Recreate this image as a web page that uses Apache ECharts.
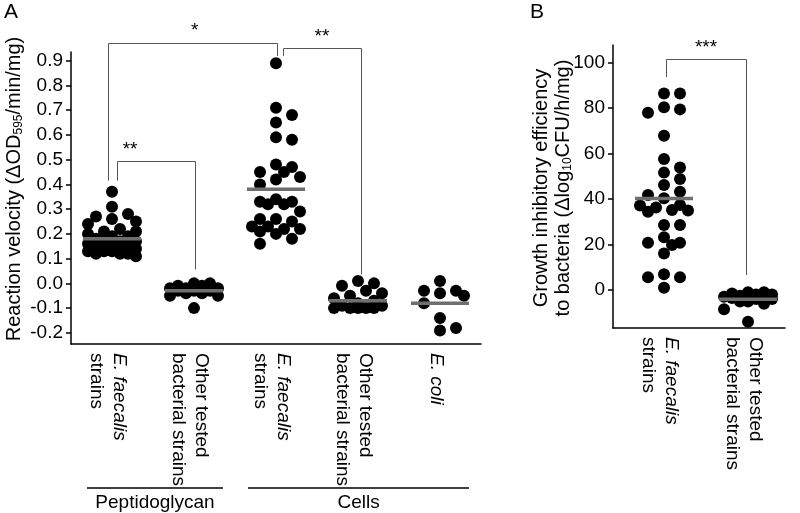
<!DOCTYPE html>
<html><head><meta charset="utf-8">
<script src="https://cdn.jsdelivr.net/npm/echarts@6/dist/echarts.min.js"></script>
<style>html,body{margin:0;padding:0;background:#fff}#c{width:800px;height:513px}</style>
</head><body><div id="c"></div>
<script>
// ---------------- data ----------------
const catsA = [['E. faecalis','strains'],['Other tested','bacterial strains'],['E. faecalis','strains'],['Other tested','bacterial strains'],['E. coli']];
const italicA = [true,false,true,false,true];
const catsB = [['E. faecalis','strains'],['Other tested','bacterial strains']];
const italicB = [true,false];

const pgEfaecalis = [0.37,0.31,0.28,0.27,0.26,0.25,0.24,0.22,0.21,0.21,0.20,0.19,0.19,0.18,0.17,0.17,0.16,0.16,0.15,0.15,0.14,0.14,0.14,0.13,0.13,0.13,0.12,0.12,0.12,0.11];
const pgOther = [0.00,0.00,-0.01,-0.01,-0.02,-0.02,-0.02,-0.03,-0.03,-0.03,-0.04,-0.04,-0.05,-0.05,-0.10];
const cellsEfaecalis = [0.89,0.71,0.68,0.65,0.59,0.58,0.48,0.47,0.45,0.45,0.43,0.42,0.40,0.34,0.33,0.33,0.32,0.32,0.29,0.26,0.26,0.25,0.23,0.23,0.22,0.22,0.21,0.20,0.18,0.16];
const cellsOther = [0.01,0.00,-0.01,-0.03,-0.04,-0.05,-0.06,-0.07,-0.08,-0.09,-0.09,-0.10,-0.10,-0.10,-0.10,-0.10];
const ecoli = [0.01,-0.03,-0.03,-0.04,-0.05,-0.08,-0.14,-0.18,-0.19];
const meansA = [0.18,-0.03,0.38,-0.07,-0.08];

const growthEfaecalis = [86.4,86.4,80.3,79.4,77.9,67.8,57.6,53.9,51.6,48.8,46.2,43.2,41.8,40.3,37.4,37.1,36.3,35.2,34.9,34.4,28.6,28.6,23.2,20.8,20.8,19.8,16.1,6.9,5.6,5.6,1.0];
const growthOther = [-1,-1,-1.5,-2,-2,-2.5,-3,-3,-3,-3.5,-4,-4,-5,-5,-6,-8.5,-14];
const meansB = [40.2,-4.1];

const yTicksA = [-0.2,-0.1,0.0,0.1,0.2,0.3,0.4,0.5,0.6,0.7,0.8,0.9];
const yTicksB = [0,20,40,60,80,100];

// significance brackets: [xLeft, xRight, yTop, yLeftEnd, yRightEnd, label, labelX, labelY]
const bracketsA = [
  [0.951, 3.012, 0.972, 0.415, 0.919, '*', 2.01, 1.02],
  [1.061, 2.012, 0.496, 0.415, 0.056, '**', 1.22, 0.54],
  [3.085, 4.037, 0.952, 0.919, 0.036, '**', 3.56, 0.995]
];
const bracketsB = [
  [1.024, 1.976, 101.5, 93.6, 6.6, '***', 1.5, 106.4]
];
const groupsA = [['Peptidoglycan', 0.695, 2.354], ['Cells', 2.659, 5.354]];

// ---------------- chart ----------------
const FONT = '"Liberation Sans", Arial, sans-serif';
const chart = echarts.init(document.getElementById('c'));

function catFormatter(cats, ital){
  return function(v){
    const i = Math.round(v) - 1;
    const c = cats[i]; if (!c) return '';
    const first = (ital[i] ? '{i|' : '{n|') + c[0] + '}';
    return c.length > 1 ? first + '\n{n|' + c[1] + '}' : first;
  };
}
const labRich = {
  i:{fontStyle:'italic', fontSize:19, fontFamily:FONT, color:'#000', lineHeight:23},
  n:{fontSize:19, fontFamily:FONT, color:'#000', lineHeight:23}
};
const axisLineStyle = {show:true, onZero:false, lineStyle:{color:'#000', width:1.5}};

const option = {
  animation:false,
  grid:[
    {left:71, top:52, width:410, height:292},
    {left:613, top:45, width:172, height:283}
  ],
  xAxis:[
    {type:'value', gridIndex:0, min:0.5, max:5.5, axisLine:axisLineStyle, axisTick:{show:false}, splitLine:{show:false},
     axisLabel:{customValues:[1,2,3,4,5], rotate:-90, margin:9, padding:[8,0,0,0], formatter:catFormatter(catsA, italicA), rich:labRich}},
    {type:'value', gridIndex:1, min:0.393, max:2.44, axisLine:axisLineStyle, axisTick:{show:false}, splitLine:{show:false},
     axisLabel:{customValues:[1,2], rotate:-90, margin:9, padding:[8,0,0,0], formatter:catFormatter(catsB, italicB), rich:labRich}}
  ],
  yAxis:[
    {type:'value', gridIndex:0, min:-0.245, max:0.935, axisLine:axisLineStyle, splitLine:{show:false},
     axisTick:{show:true, customValues:yTicksA, length:5, lineStyle:{color:'#000', width:1.5}},
     axisLabel:{customValues:yTicksA, margin:8, fontSize:19, fontFamily:FONT, color:'#000', formatter:v=>(Math.abs(v)<1e-9?0:v).toFixed(1)}},
    {type:'value', gridIndex:1, min:-16.7, max:107.7, axisLine:axisLineStyle, splitLine:{show:false},
     axisTick:{show:true, customValues:yTicksB, length:5, lineStyle:{color:'#000', width:1.5}},
     axisLabel:{customValues:yTicksB, margin:8, fontSize:19, fontFamily:FONT, color:'#000', formatter:v=>String(Math.round(v))}}
  ],
  series:[
    {type:'scatter', xAxisIndex:0, yAxisIndex:0, symbolSize:12, itemStyle:{color:'#000', opacity:1}, data:[], z:2, silent:true},
    {type:'scatter', xAxisIndex:0, yAxisIndex:0, symbol:'rect', symbolSize:[58,3.5], itemStyle:{color:'#6e6e6e', opacity:1}, data:meansA.map((m,i)=>[i+1,m]), z:3, silent:true},
    {type:'scatter', xAxisIndex:1, yAxisIndex:1, symbolSize:12, itemStyle:{color:'#000', opacity:1}, data:[], z:2, silent:true},
    {type:'scatter', xAxisIndex:1, yAxisIndex:1, symbol:'rect', symbolSize:[58,3.5], itemStyle:{color:'#6e6e6e', opacity:1}, data:meansB.map((m,i)=>[i+1,m]), z:3, silent:true}
  ]
};
chart.setOption(option);

// beeswarm layout computed in pixel space via the axes' scales
function swarm(values, center, gi){
  const p0 = chart.convertToPixel({gridIndex:gi}, [center, 0]);
  const p1 = chart.convertToPixel({gridIndex:gi}, [center+1, 0]);
  const pxPerX = p1[0]-p0[0];
  const pts = values.map(v=>({v, py: chart.convertToPixel({gridIndex:gi}, [center, v])[1]}));
  pts.sort((a,b)=>a.py-b.py);
  const placed = [], D = 11.5, step = 8;
  for (const p of pts){
    let chosen = null, alt = 0, altScore = -1;
    for (const k of [0,2,-2,1,-1,3,-3]){
      const px = k*step;
      let md = Infinity;
      for (const q of placed){ const d = Math.hypot(q.px-px, q.py-p.py); if (d<md) md=d; }
      if (md >= D){ chosen = px; break; }
      if (md > altScore){ altScore = md; alt = px; }
    }
    p.px = chosen === null ? alt : chosen;
    placed.push(p);
  }
  return pts.map(p=>[center + p.px/pxPerX, p.v]);
}
const dataA = [].concat(
  swarm(pgEfaecalis,1,0), swarm(pgOther,2,0), swarm(cellsEfaecalis,3,0), swarm(cellsOther,4,0), swarm(ecoli,5,0));
const dataB = [].concat(swarm(growthEfaecalis,1,1), swarm(growthOther,2,1));

// annotations
const graphics = [];
const lineStyle = {stroke:'#555', lineWidth:1, fill:null};
function addBrackets(list, gi){
  for (const b of list){
    const P = (x,y)=>chart.convertToPixel({gridIndex:gi}, [x,y]);
    const a = P(b[0], b[3]), c = P(b[0], b[2]), d = P(b[1], b[2]), e = P(b[1], b[4]);
    graphics.push({type:'polyline', shape:{points:[[Math.round(a[0])+0.5,a[1]],[Math.round(c[0])+0.5,Math.round(c[1])+0.5],[Math.round(d[0])+0.5,Math.round(d[1])+0.5],[Math.round(e[0])+0.5,e[1]]]}, style:lineStyle, silent:true});
    const t = P(b[6], b[7]);
    graphics.push({type:'text', x:t[0], y:t[1], style:{text:b[5], font:'19px '+FONT, fill:'#000', align:'center', verticalAlign:'middle'}, silent:true});
  }
}
addBrackets(bracketsA, 0);
addBrackets(bracketsB, 1);
for (const g of groupsA){
  const l = chart.convertToPixel({gridIndex:0}, [g[1], 0])[0];
  const r = chart.convertToPixel({gridIndex:0}, [g[2], 0])[0];
  graphics.push({type:'line', shape:{x1:l, y1:488, x2:r, y2:488}, style:{stroke:'#000', lineWidth:1.5}, silent:true});
  graphics.push({type:'text', x:(l+r)/2, y:503, style:{text:g[0], font:'19px '+FONT, fill:'#000', align:'center', verticalAlign:'middle'}, silent:true});
}
const titleRich = {
  a:{fontSize:20, fontFamily:FONT, fill:'#000', lineHeight:22},
  s:{fontSize:12, fontFamily:FONT, fill:'#000', lineHeight:12, verticalAlign:'bottom'}
};
graphics.push({type:'text', x:14, y:189, rotation:Math.PI/2, style:{text:'{a|Reaction velocity (ΔOD}{s|595}{a|/min/mg)}', rich:titleRich, align:'center', verticalAlign:'middle'}, silent:true});
graphics.push({type:'text', x:552, y:188, rotation:Math.PI/2, style:{text:'{a|Growth inhibitory efficiency}\n{a|to bacteria (Δlog}{s|10}{a|CFU/h/mg)}', rich:titleRich, align:'center', verticalAlign:'middle'}, silent:true});
graphics.push({type:'text', x:4, y:2, style:{text:'A', font:'21px '+FONT, fill:'#000'}, silent:true});
graphics.push({type:'text', x:530, y:2, style:{text:'B', font:'21px '+FONT, fill:'#000'}, silent:true});

chart.setOption({
  series:[{data:dataA},{},{data:dataB},{}],
  graphic:graphics
});
</script></body></html>
